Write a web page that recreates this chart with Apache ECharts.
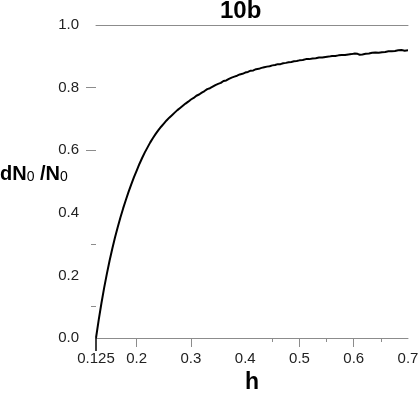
<!DOCTYPE html>
<html>
<head>
<meta charset="utf-8">
<script src="https://cdn.jsdelivr.net/npm/echarts@6/dist/echarts.min.js"></script>
<style>
    html, body { margin: 0; padding: 0; background: #fff; }
    #chart { width: 420px; height: 394px; }
</style>
</head>
<body>
<div id="chart"></div>
<script>
    // ------------------------------ 数据 -----------------------------------------
    var hValues = [
        0.125, 0.130, 0.135, 0.140, 0.145, 0.150, 0.155, 0.160, 0.165, 0.170,
        0.175, 0.180, 0.185, 0.190, 0.195, 0.200, 0.205, 0.210, 0.215, 0.220,
        0.225, 0.230, 0.235, 0.240, 0.245, 0.250, 0.255, 0.260, 0.265, 0.270,
        0.275, 0.280, 0.285, 0.290, 0.295, 0.300, 0.305, 0.310, 0.315, 0.320,
        0.325, 0.330, 0.335, 0.340, 0.345, 0.350, 0.355, 0.360, 0.365, 0.370,
        0.375, 0.380, 0.385, 0.390, 0.395, 0.400, 0.405, 0.410, 0.415, 0.420,
        0.425, 0.430, 0.435, 0.440, 0.445, 0.450, 0.455, 0.460, 0.465, 0.470,
        0.475, 0.480, 0.485, 0.490, 0.495, 0.500, 0.506, 0.512, 0.518, 0.524,
        0.530, 0.536, 0.542, 0.548, 0.554, 0.560, 0.566, 0.572, 0.578, 0.584,
        0.590, 0.596, 0.602, 0.607, 0.611, 0.616, 0.622, 0.628, 0.634, 0.640,
        0.646, 0.652, 0.658, 0.664, 0.670, 0.676, 0.682, 0.688, 0.694, 0.700
    ];
    var ratioValues = [
        0.000, 0.058, 0.111, 0.160, 0.205, 0.247, 0.285, 0.321, 0.354, 0.385,
        0.414, 0.441, 0.467, 0.491, 0.514, 0.535, 0.556, 0.575, 0.593, 0.609,
        0.625, 0.639, 0.652, 0.664, 0.675, 0.685, 0.695, 0.704, 0.712, 0.720,
        0.728, 0.735, 0.742, 0.749, 0.755, 0.762, 0.767, 0.774, 0.778, 0.784,
        0.789, 0.795, 0.798, 0.803, 0.808, 0.812, 0.815, 0.821, 0.823, 0.828,
        0.832, 0.835, 0.838, 0.842, 0.844, 0.848, 0.850, 0.854, 0.855, 0.859,
        0.860, 0.863, 0.865, 0.867, 0.868, 0.871, 0.872, 0.875, 0.875, 0.878,
        0.879, 0.881, 0.882, 0.884, 0.885, 0.887, 0.888, 0.891, 0.891, 0.893,
        0.894, 0.896, 0.896, 0.898, 0.899, 0.901, 0.901, 0.903, 0.904, 0.904,
        0.906, 0.907, 0.909, 0.908, 0.905, 0.906, 0.908, 0.909, 0.911, 0.912,
        0.911, 0.913, 0.914, 0.916, 0.916, 0.917, 0.919, 0.920, 0.918, 0.919
    ];
    var xLabelValues = [0.125, 0.2, 0.3, 0.4, 0.5, 0.6, 0.7];
    var xMajorTicks = [0.2, 0.3, 0.5, 0.6];
    var xMinorTicks = [0.45, 0.55, 0.65];
    var xStartTick = [0.125];
    var yLabelValues = [0, 0.2, 0.4, 0.6, 0.8, 1.0];
    var yMajorTicks = [0.6, 0.8];
    var yMinorTicks = [0.1, 0.3];

    var fontName = 'Liberation Sans';
    var axisGray = '#8c8c8c';

    var seriesData = hValues.map(function (h, i) { return [h, ratioValues[i]]; });

    var myChart = echarts.init(document.getElementById('chart'));
    var option;

    // 只用来画额外刻度的辅助坐标轴
    function plainX(extra) {
        var base = {
            type: 'value', min: 0.125, max: 0.7, position: 'bottom',
            axisLine: {show: false},
            axisLabel: {show: false},
            splitLine: {show: false},
            axisTick: {show: false}
        };
        return Object.assign(base, extra);
    }

    option = {
        animation: false,
        backgroundColor: '#fff',
        title: {
            text: '10b',
            left: 220,
            top: -1,
            padding: 0,
            textStyle: {fontFamily: fontName, fontSize: 24, fontWeight: 'bold', color: '#000'}
        },
        // y轴标题 (横排)
        graphic: [
            {
                type: 'text',
                left: 0,
                top: 164,
                style: {
                    text: 'dN{s|0} /N{s|0}',
                    fontFamily: fontName, fontSize: 20, fontWeight: 'bold', fill: '#000',
                    rich: {
                        s: {fontFamily: fontName, fontSize: 14, fontWeight: 'normal', fill: '#000', verticalAlign: 'bottom'}
                    }
                }
            }
        ],
        grid: {left: 96, right: 12, top: 25, bottom: 56, outerBoundsMode: 'none'},
        xAxis: [
            {
                type: 'value', min: 0.125, max: 0.7, position: 'bottom',
                name: 'h',
                nameLocation: 'middle',
                nameGap: 28,
                nameTextStyle: {fontFamily: fontName, fontSize: 23, fontWeight: 'bold', color: '#000'},
                axisLine: {show: true, onZero: false, lineStyle: {color: axisGray, width: 1}},
                axisTick: {show: true, length: 9, customValues: xMajorTicks, lineStyle: {color: axisGray}},
                axisLabel: {
                    customValues: xLabelValues,
                    margin: 13,
                    fontFamily: fontName, fontSize: 15, color: '#222',
                    formatter: function (v) { return v === 0.125 ? '0.125' : v.toFixed(1); }
                },
                splitLine: {show: false}
            },
            plainX({axisTick: {show: true, length: 4, customValues: xMinorTicks, lineStyle: {color: axisGray}}}),
            plainX({axisTick: {show: true, length: 13, customValues: xStartTick, lineStyle: {color: '#000', width: 1.5}}}),
            plainX({position: 'top', axisLine: {show: true, onZero: false, lineStyle: {color: axisGray, width: 1}}})
        ],
        yAxis: [
            {
                type: 'value', min: 0, max: 1, position: 'left',
                axisLine: {show: false},
                axisTick: {show: true, length: 10, customValues: yMajorTicks, lineStyle: {color: axisGray}},
                axisLabel: {
                    customValues: yLabelValues,
                    margin: 17,
                    fontFamily: fontName, fontSize: 15, color: '#222',
                    formatter: function (v) { return v.toFixed(1); }
                },
                splitLine: {show: false}
            },
            {
                type: 'value', min: 0, max: 1, position: 'left',
                axisLine: {show: false},
                axisLabel: {show: false},
                splitLine: {show: false},
                axisTick: {show: true, length: 5, customValues: yMinorTicks, lineStyle: {color: axisGray}}
            }
        ],
        series: [
            {
                type: 'line',
                xAxisIndex: 0,
                yAxisIndex: 0,
                data: seriesData,
                symbol: 'none',
                showSymbol: false,
                lineStyle: {color: '#000', width: 2}
            }
        ]
    };

    option && myChart.setOption(option);
</script>
</body>
</html>
